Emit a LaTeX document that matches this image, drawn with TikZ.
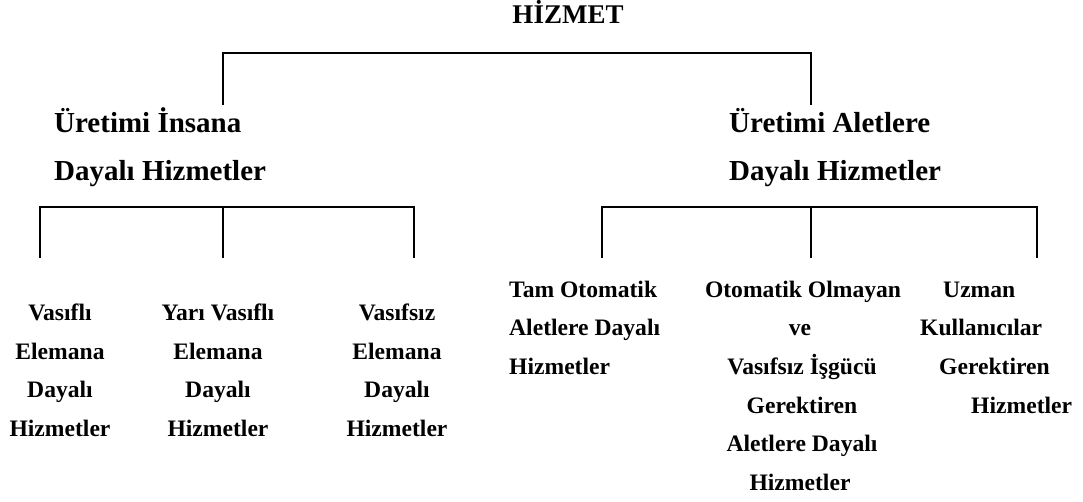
\documentclass[tikz,border=0pt]{standalone}
\usepackage{fontspec}
\setmainfont{Liberation Serif}
\begin{document}
\begin{tikzpicture}[x=1pt,y=-1pt,
  ttl/.style={font=\fontsize{27}{32}\selectfont\bfseries, inner sep=0pt},
  lvone/.style={font=\fontsize{29}{34}\selectfont\bfseries, inner sep=0pt},
  lvtwo/.style={font=\fontsize{23.6}{28}\selectfont\bfseries, inner sep=0pt},
  bar/.style={line width=1.6pt, line cap=rect}]
\useasboundingbox (0,0) rectangle (1083,501);
% title
\node[ttl, anchor=base] (root) at (568,23) {HİZMET};
% level 1
\node[lvone, anchor=base west] (l1a) at (54,132) {Üretimi İnsana};
\node[lvone, anchor=base west] (l1b) at (54,180) {Dayalı Hizmetler};
\node[lvone, anchor=base west] (r1a) at (729,132) {Üretimi Aletlere};
\node[lvone, anchor=base west] (r1b) at (729,180) {Dayalı Hizmetler};
% top bracket
\coordinate (tL) at (223,53);
\coordinate (tR) at (811,53);
\coordinate (tLb) at (223,104);
\coordinate (tRb) at (811,104);
\draw[bar] (tLb) -- (tL) -- (tR) -- (tRb);
% left bracket
\coordinate (la) at (40,207);
\coordinate (lb) at (223,207);
\coordinate (lc) at (414,207);
\coordinate (lad) at (40,257);
\coordinate (lbd) at (223,257);
\coordinate (lcd) at (414,257);
\draw[bar] (lad) -- (la) -- (lc) -- (lcd);
\draw[bar] (lb) -- (lbd);
% right bracket
\coordinate (ra) at (602,207);
\coordinate (rb) at (811,207);
\coordinate (rc) at (1037,207);
\coordinate (rad) at (602,257);
\coordinate (rbd) at (811,257);
\coordinate (rcd) at (1037,257);
\draw[bar] (rad) -- (ra) -- (rc) -- (rcd);
\draw[bar] (rb) -- (rbd);
% left leaves
\node[lvtwo, anchor=base] (a1) at (60,320.5) {Vasıflı};
\node[lvtwo, anchor=base] (a2) at (60,359.2) {Elemana};
\node[lvtwo, anchor=base] (a3) at (60,397.9) {Dayalı};
\node[lvtwo, anchor=base] (a4) at (60,436.6) {Hizmetler};
\node[lvtwo, anchor=base] (b1) at (218,320.5) {Yarı Vasıflı};
\node[lvtwo, anchor=base] (b2) at (218,359.2) {Elemana};
\node[lvtwo, anchor=base] (b3) at (218,397.9) {Dayalı};
\node[lvtwo, anchor=base] (b4) at (218,436.6) {Hizmetler};
\node[lvtwo, anchor=base] (c1) at (397,320.5) {Vasıfsız};
\node[lvtwo, anchor=base] (c2) at (397,359.2) {Elemana};
\node[lvtwo, anchor=base] (c3) at (397,397.9) {Dayalı};
\node[lvtwo, anchor=base] (c4) at (397,436.6) {Hizmetler};
% right leaves
\node[lvtwo, anchor=base west] (d1) at (509,297) {Tam Otomatik};
\node[lvtwo, anchor=base west] (d2) at (509,335.7) {Aletlere Dayalı};
\node[lvtwo, anchor=base west] (d3) at (509,374.4) {Hizmetler};
\node[lvtwo, anchor=base] (e1) at (803,297) {Otomatik Olmayan};
\node[lvtwo, anchor=base] (e2) at (800,335.7) {ve};
\node[lvtwo, anchor=base] (e3) at (802,374.4) {Vasıfsız İşgücü};
\node[lvtwo, anchor=base] (e4) at (802,413.1) {Gerektiren};
\node[lvtwo, anchor=base] (e5) at (802,451.8) {Aletlere Dayalı};
\node[lvtwo, anchor=base] (e6) at (800,490.5) {Hizmetler};
\node[lvtwo, anchor=base west] (f1) at (943,297) {Uzman};
\node[lvtwo, anchor=base west] (f2) at (920,335.7) {Kullanıcılar};
\node[lvtwo, anchor=base west] (f3) at (939,374.4) {Gerektiren};
\node[lvtwo, anchor=base west] (f4) at (971,413.1) {Hizmetler};
\end{tikzpicture}
\end{document}
